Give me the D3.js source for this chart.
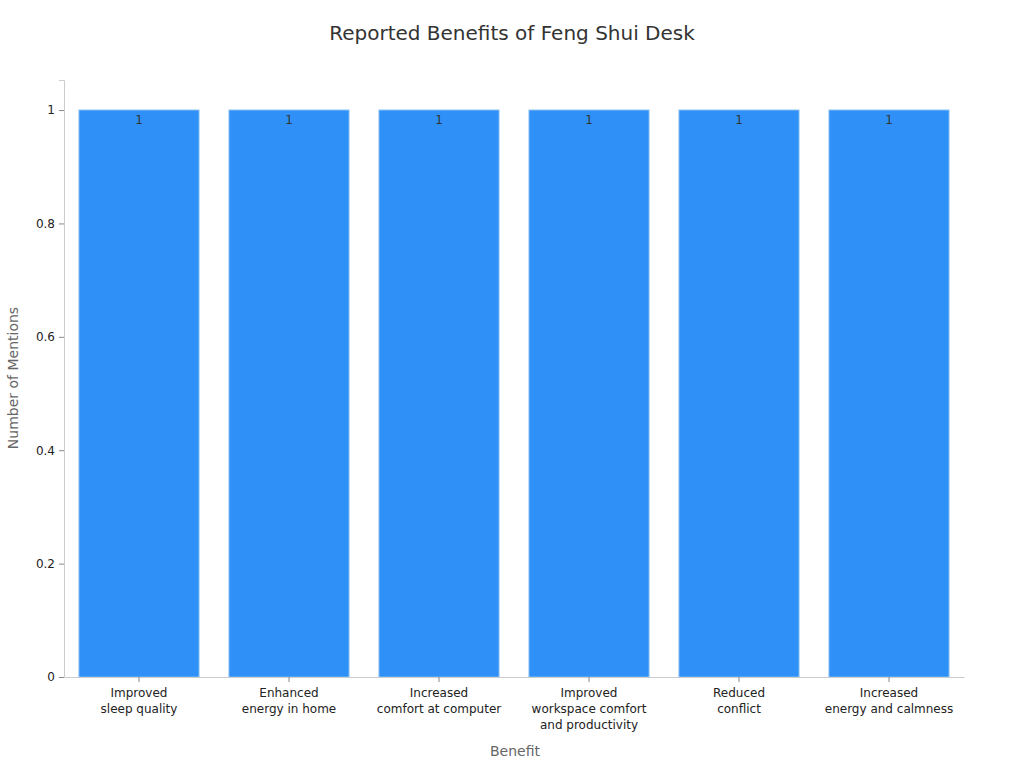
<!DOCTYPE html>
<html>
<head>
<meta charset="utf-8">
<script src="https://cdn.jsdelivr.net/npm/d3@7"></script>
<style>
  html, body { margin: 0; padding: 0; background: #fff; }
  svg { display: block; font-family: "DejaVu Sans", sans-serif; }
</style>
</head>
<body>
<svg id="chart" width="1024" height="768"></svg>
<script>
const categories = [
  ["Improved", "sleep quality"],
  ["Enhanced", "energy in home"],
  ["Increased", "comfort at computer"],
  ["Improved", "workspace comfort", "and productivity"],
  ["Reduced", "conflict"],
  ["Increased", "energy and calmness"]
];
const values = [1, 1, 1, 1, 1, 1];
const yTicks = [0, 0.2, 0.4, 0.6, 0.8, 1];

const svg = d3.select("#chart");
const margin = { left: 64, right: 60, top: 80, bottom: 91 };
const W = 1024, H = 768;

const keys = categories.map((c, i) => i);
const x = d3.scaleBand().domain(keys).range([margin.left, W - margin.right])
  .paddingInner(0.2).paddingOuter(0.1);
const y = d3.scaleLinear().domain([0, 1.053]).range([H - margin.bottom, margin.top]);

// title
svg.append("text").attr("x", 512).attr("y", 40).attr("text-anchor", "middle")
  .attr("font-size", 20).attr("fill", "#333").text("Reported Benefits of Feng Shui Desk");

// bars
svg.append("g").selectAll("rect").data(values).join("rect")
  .attr("x", (d, i) => x(i))
  .attr("y", d => y(d))
  .attr("width", x.bandwidth())
  .attr("height", d => y(0) - y(d))
  .attr("fill", "#2f91f8")
  .attr("stroke", "#7fbaf5")
  .attr("stroke-width", 1);

svg.append("g").selectAll("text").data(values).join("text")
  .attr("x", (d, i) => x(i) + x.bandwidth() / 2)
  .attr("y", d => y(d) + 14)
  .attr("text-anchor", "middle")
  .attr("font-size", 12)
  .attr("fill", "#333")
  .text(d => d);

// y axis
const yAxis = svg.append("g").attr("transform", `translate(${margin.left},0)`)
  .call(d3.axisLeft(y).tickValues(yTicks).tickSize(5).tickPadding(4).tickFormat(d3.format("~g")));
yAxis.select(".domain").attr("stroke", "#ccc");
yAxis.selectAll(".tick line").attr("stroke", "#888");
yAxis.selectAll(".tick text").attr("font-size", 12).attr("fill", "#222")
  .attr("font-family", "DejaVu Sans, sans-serif");

// x axis
const xAxis = svg.append("g").attr("transform", `translate(0,${y(0)})`)
  .call(d3.axisBottom(x).tickSize(5).tickSizeOuter(0).tickFormat(""));
xAxis.select(".domain").attr("stroke", "#ccc");
xAxis.selectAll(".tick line").attr("stroke", "#888");
xAxis.selectAll(".tick").each(function(d) {
  const t = d3.select(this).append("text")
    .attr("text-anchor", "middle").attr("font-size", 12).attr("fill", "#222")
    .attr("font-family", "DejaVu Sans, sans-serif");
  categories[d].forEach((line, j) => {
    t.append("tspan").attr("x", 0).attr("y", 20 + j * 16).text(line);
  });
});

// axis titles
svg.append("text").attr("x", 515).attr("y", 756).attr("text-anchor", "middle")
  .attr("font-size", 14).attr("fill", "#666").text("Benefit");
svg.append("text").attr("transform", "translate(18,378) rotate(-90)")
  .attr("text-anchor", "middle").attr("font-size", 14).attr("fill", "#666")
  .text("Number of Mentions");
</script>
</body>
</html>
